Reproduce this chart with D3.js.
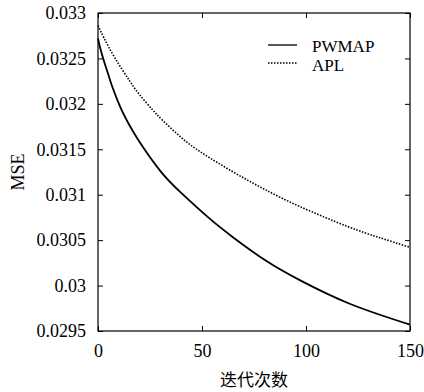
<!DOCTYPE html>
<html>
<head>
<meta charset="utf-8">
<script src="https://cdn.jsdelivr.net/npm/d3@7"></script>
<style>
body { margin: 0; background: #fff; }
svg text.serif { font-family: "Liberation Serif", "DejaVu Serif", serif; }
</style>
</head>
<body>
<script>
var iters_pw = [0, 1, 3, 5, 7, 11, 15, 20, 30, 40, 53, 65, 81, 97, 121, 150];
var pwmap = [0.03272, 0.03262, 0.03246, 0.03232, 0.03218, 0.03195, 0.03177, 0.03158, 0.03126, 0.03102,
             0.03075, 0.03053, 0.03027, 0.03006, 0.02980, 0.02957];
var iters_apl = [0, 3, 8, 15, 20, 26, 31, 40, 50, 65, 80, 97, 120, 135, 150];
var apl = [0.03286, 0.03272, 0.03251, 0.03226, 0.03210, 0.03194, 0.03182, 0.03163, 0.03146, 0.03125,
           0.03106, 0.03087, 0.03065, 0.03053, 0.03042];
var series_names = ["PWMAP", "APL"];
var x_ticks = [0, 50, 100, 150];
var y_ticks = [0.0295, 0.03, 0.0305, 0.031, 0.0315, 0.032, 0.0325, 0.033];
var x_label = "迭代次数";
var y_label = "MSE";

var margin = {top: 13, right: 14, bottom: 61, left: 98},
    width = 424 - margin.left - margin.right,
    height = 392 - margin.top - margin.bottom;

var svg = d3.select("body").append("svg")
    .attr("width", 424)
    .attr("height", 392)
  .append("g")
    .attr("transform", "translate(" + margin.left + "," + margin.top + ")");

var x = d3.scaleLinear().domain([0, 150]).range([0, width]);
var y = d3.scaleLinear().domain([0.0295, 0.033]).range([height, 0]);

var fmt = function(d) { return String(+d.toFixed(4)); };

// axes, ticks pointing inward on all four sides
svg.append("g")
  .attr("transform", "translate(0," + height + ")")
  .call(d3.axisBottom(x).tickValues(x_ticks).tickSizeInner(-5).tickSizeOuter(0).tickPadding(13));
svg.append("g")
  .call(d3.axisTop(x).tickValues(x_ticks).tickSizeInner(-5).tickSizeOuter(0).tickFormat(""));
svg.append("g")
  .call(d3.axisLeft(y).tickValues(y_ticks).tickSizeInner(-5).tickSizeOuter(0).tickPadding(12).tickFormat(fmt));
svg.append("g")
  .attr("transform", "translate(" + width + ",0)")
  .call(d3.axisRight(y).tickValues(y_ticks).tickSizeInner(-5).tickSizeOuter(0).tickFormat(""));

svg.selectAll(".domain").remove();
svg.selectAll(".tick line").attr("stroke", "#000").attr("stroke-width", 1);
svg.selectAll(".tick text")
  .attr("class", "serif")
  .attr("font-family", "Liberation Serif")
  .attr("font-size", 18).attr("fill", "#000");

svg.append("rect")
  .attr("width", width).attr("height", height)
  .attr("fill", "none").attr("stroke", "#000").attr("stroke-width", 1.2);

var line = d3.line()
  .x(function(d) { return x(d[0]); })
  .y(function(d) { return y(d[1]); })
  .curve(d3.curveNatural);

svg.append("path")
  .datum(d3.zip(iters_apl, apl))
  .attr("fill", "none").attr("stroke", "#000").attr("stroke-width", 1.6)
  .attr("stroke-dasharray", "1.5,1.5")
  .attr("d", line);

svg.append("path")
  .datum(d3.zip(iters_pw, pwmap))
  .attr("fill", "none").attr("stroke", "#000").attr("stroke-width", 1.8)
  .attr("d", line);

// legend
var legend = svg.append("g").attr("transform", "translate(170,32)");
legend.append("line").attr("x1", 0).attr("x2", 29).attr("y1", 0).attr("y2", 0)
  .attr("stroke", "#000").attr("stroke-width", 1.3);
legend.append("line").attr("x1", 0).attr("x2", 29).attr("y1", 18).attr("y2", 18)
  .attr("stroke", "#000").attr("stroke-width", 1.3).attr("stroke-dasharray", "1.5,1.5");
legend.selectAll(".ltxt").data(series_names).enter().append("text")
  .attr("class", "serif")
  .attr("x", 44).attr("y", function(d, i) { return i * 19 + 7; })
  .attr("font-size", 17)
  .text(function(d) { return d; });

// axis titles
svg.append("text")
  .attr("x", width / 2).attr("y", height + 55)
  .attr("text-anchor", "middle")
  .attr("font-size", 17)
  .attr("font-family", "Noto Sans CJK SC, sans-serif")
  .text(x_label);
svg.append("text")
  .attr("class", "serif")
  .attr("transform", "translate(-74," + (height / 2) + ") rotate(-90)")
  .attr("text-anchor", "middle")
  .attr("font-size", 18)
  .text(y_label);
</script>
</body>
</html>
